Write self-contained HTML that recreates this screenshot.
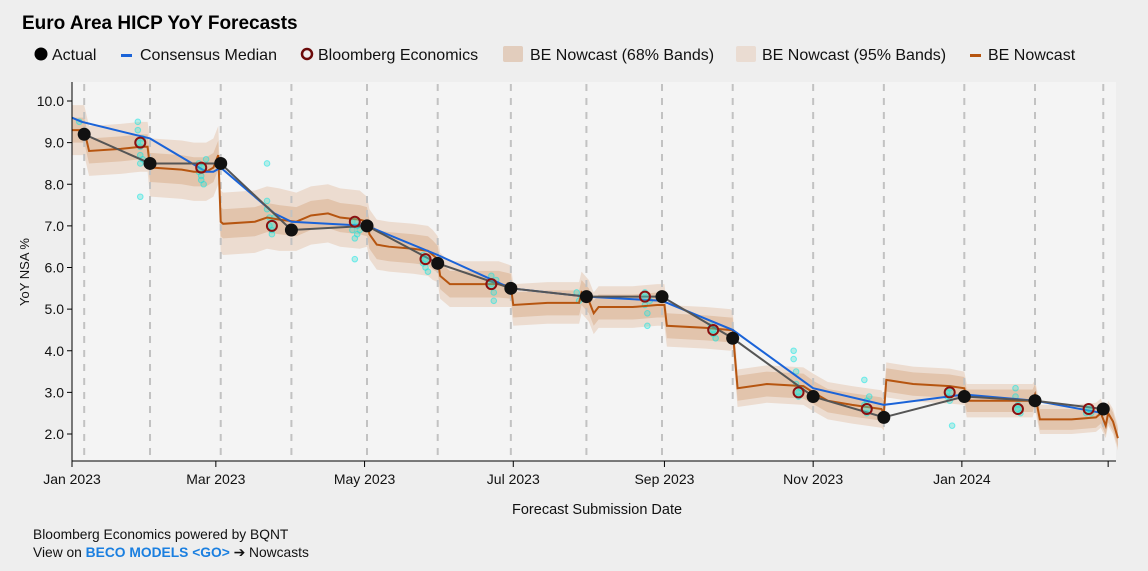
<!DOCTYPE html>
<html><head><meta charset="utf-8">
<style>
body{margin:0;width:1148px;height:571px;background:#eeeeee;font-family:"Liberation Sans",Arial,sans-serif;overflow:hidden}
svg{display:block}
</style></head>
<body>
<svg id="c" width="1148" height="571">
<text x="22" y="29" font-size="19" font-weight="bold" fill="#000">Euro Area HICP YoY Forecasts</text>
<g font-size="16" fill="#111">
<g><circle cx="41" cy="54" r="6.5" fill="#000"/><text x="52" y="60">Actual</text></g>
<g><rect x="121" y="54" width="11" height="3" fill="#1a63d8"/><text x="140" y="60">Consensus Median</text></g>
<g><circle cx="307" cy="54" r="5" fill="none" stroke="#6b0a0a" stroke-width="2.5"/><text x="318" y="60">Bloomberg Economics</text></g>
<g><rect x="503" y="46" width="20" height="16" rx="2" fill="#e2cdbd"/><text x="530" y="60">BE Nowcast (68% Bands)</text></g>
<g><rect x="736" y="46" width="20" height="16" rx="2" fill="#eadcd2"/><text x="762" y="60">BE Nowcast (95% Bands)</text></g>
<g><rect x="970" y="54" width="11" height="3" fill="#b65510"/><text x="988" y="60">BE Nowcast</text></g>
</g>
<rect x="72" y="82" width="1044" height="379" fill="#f4f4f4"/>
<g id="g"></g>
<text x="512" y="514" font-size="14.5" fill="#111">Forecast Submission Date</text>
<text transform="translate(29,272) rotate(-90)" text-anchor="middle" font-size="13" fill="#111">YoY NSA %</text>
<text x="33" y="539" font-size="13.8" fill="#111">Bloomberg Economics powered by BQNT</text>
<text x="33" y="557" font-size="13.8" fill="#111">View on <tspan fill="#1a7fe0" font-weight="bold">BECO MODELS &lt;GO&gt;</tspan> ➔ Nowcasts</text>
</svg>
<script>
const releaseDays=[5,32,61,90,121,150,180,211,242,271,304,333,366,395,423];
const actualDays=[5,32,61,90,121,150,180,211,242,271,304,333,366,395,423];
const actualVals=[9.2,8.5,8.5,6.9,7.0,6.1,5.5,5.3,5.3,4.3,2.9,2.4,2.9,2.8,2.6];
const beDays=[28,53,82,116,145,172,235,263,298,326,360,388,417];
const beVals=[9.0,8.4,7.0,7.1,6.2,5.6,5.3,4.5,3.0,2.6,3.0,2.6,2.6];
const consDays=[0,4,32,55,58,61,83,90,121,150,180,211,242,271,304,333,366,395,423];
const consVals=[9.6,9.5,9.1,8.3,8.3,8.4,7.3,7.1,7.0,6.3,5.5,5.3,5.2,4.5,3.1,2.7,2.95,2.8,2.5];
const nowDays=[0,5,7,20,28,31,32,33,45,50,55,58,60,61,62,75,80,85,92,98,105,110,118,121,122,125,130,140,146,148,150,151,155,175,180,181,195,208,209,212,214,216,230,240,243,244,260,270,271,273,285,300,304,310,320,332,333,334,345,360,366,367,380,394,395,397,410,420,422,424,425,427,429];
const nowVals=[9.3,9.3,8.8,8.85,8.9,8.9,8.4,8.4,8.35,8.3,8.3,8.4,8.7,7.1,7.05,7.1,7.2,7.15,7.1,7.25,7.3,7.2,7.15,7.1,6.8,6.55,6.5,6.45,6.4,6.3,6.2,5.8,5.6,5.6,5.55,5.1,5.15,5.15,5.4,5.2,4.9,5.05,5.05,5.1,5.1,4.6,4.55,4.5,4.5,3.1,3.2,3.15,3.0,2.8,2.7,2.6,2.5,3.3,3.2,3.15,3.1,2.8,2.8,2.8,2.95,2.35,2.35,2.4,2.5,2.2,2.5,2.3,1.9];
const band68=[0.3,0.35,0.35,0.35,0.35,0.32,0.3,0.3,0.3,0.3,0.28,0.28,0.27,0.25,0.22];
const band95=[0.6,0.7,0.75,0.7,0.6,0.55,0.5,0.5,0.5,0.45,0.45,0.42,0.4,0.35,0.3];
const cyanDays=[3,4,27,27,27,28,28,28,28,29,29,52,52,53,53,54,54,55,80,80,80,81,81,82,82,83,115,115,116,116,117,117,118,144,144,145,145,146,172,172,173,173,174,207,208,209,235,235,236,236,237,262,263,263,264,296,296,297,297,298,298,299,325,325,326,326,327,359,359,360,360,361,387,387,388,388,389,416,417,418];
const cyanVals=[9.5,9.2,9.5,9.3,9.0,8.9,8.7,8.5,7.7,9.1,8.6,8.5,8.3,8.2,8.1,8.0,8.4,8.6,8.5,7.6,7.4,7.2,7.0,6.9,6.8,7.2,7.1,6.9,6.7,6.2,7.0,6.8,6.9,6.3,6.1,6.0,6.2,5.9,5.8,5.6,5.4,5.2,5.7,5.4,5.2,5.3,5.4,5.1,4.9,4.6,5.2,4.6,4.4,4.5,4.3,3.8,4.0,3.5,3.2,3.0,2.9,3.1,3.3,2.7,2.5,2.8,2.9,3.0,2.9,2.8,3.1,2.2,3.1,2.9,2.7,2.6,2.5,2.5,2.6,2.5];
const yTicks=[2,3,4,5,6,7,8,9,10];
const xTickDays=[0,59,120,181,243,304,365,425];
const xTickLabels=["Jan 2023","Mar 2023","May 2023","Jul 2023","Sep 2023","Nov 2023","Jan 2024",""];

const X=d=>72+d*2.438, Y=v=>434-(v-2)*41.625;
const NS="http://www.w3.org/2000/svg", g=document.getElementById('g');
function mk(t,a,p){const e=document.createElementNS(NS,t);for(const k in a)e.setAttribute(k,a[k]);(p||g).appendChild(e);return e;}
function segIdx(d){const n=releaseDays.filter(r=>r<=d).length-1;return Math.max(0,Math.min(n,releaseDays.length-1));}
function bandPath(w){let top='',bot=[];nowDays.forEach((d,i)=>{const h=w[Math.min(w.length-1,segIdx(d))];top+=(i?'L':'M')+X(d)+','+Y(nowVals[i]+h);bot.push('L'+X(d)+','+Y(nowVals[i]-h));});return top+bot.reverse().join('')+'Z';}
const b95=mk('path',{d:bandPath(band95),fill:'#ecdcd0'});


const b68=mk('path',{d:bandPath(band68),fill:'#e2c4ac'});


releaseDays.forEach(d=>{const l=mk('line',{x1:X(d),x2:X(d),y1:84,y2:461,stroke:'#c2c2c2','stroke-width':2,'stroke-dasharray':'7,7'});

});
cyanDays.forEach((d,i)=>{const c=mk('circle',{cx:X(d),cy:Y(cyanVals[i]),r:2.8,fill:'rgba(64,224,208,0.35)',stroke:'rgba(0,230,230,0.5)','stroke-width':1});

});
const line=(ds,vs,col,w)=>mk('polyline',{points:ds.map((d,i)=>X(d)+','+Y(vs[i])).join(' '),fill:'none',stroke:col,'stroke-width':w});
const nl=line(nowDays,nowVals,'#b65510',2);


const cl=line(consDays,consVals,'#1a63d8',2);


const al=line(actualDays,actualVals,'#555',2);


actualDays.forEach((d,i)=>{const c=mk('circle',{cx:X(d),cy:Y(actualVals[i]),r:6.5,fill:'#111'});

});
beDays.forEach((d,i)=>{const c=mk('circle',{cx:X(d),cy:Y(beVals[i]),r:5,fill:'rgba(64,224,208,0.4)',stroke:'#8a1010','stroke-width':2});

});
const ya=mk('line',{x1:72,x2:72,y1:82,y2:461,stroke:'#000'});


const xa=mk('line',{x1:72,x2:1116,y1:461,y2:461,stroke:'#000'});


yTicks.forEach(v=>{mk('line',{x1:67,x2:72,y1:Y(v),y2:Y(v),stroke:'#000'});const t=mk('text',{x:64,y:Y(v)+5,'text-anchor':'end','font-size':14,fill:'#111'});t.textContent=v.toFixed(1);

});
xTickDays.forEach((d,i)=>{mk('line',{x1:X(d),x2:X(d),y1:461,y2:467,stroke:'#000'});const t=mk('text',{x:X(d),y:484,'text-anchor':'middle','font-size':14,fill:'#111'});t.textContent=xTickLabels[i];

});
</script>
</body></html>
